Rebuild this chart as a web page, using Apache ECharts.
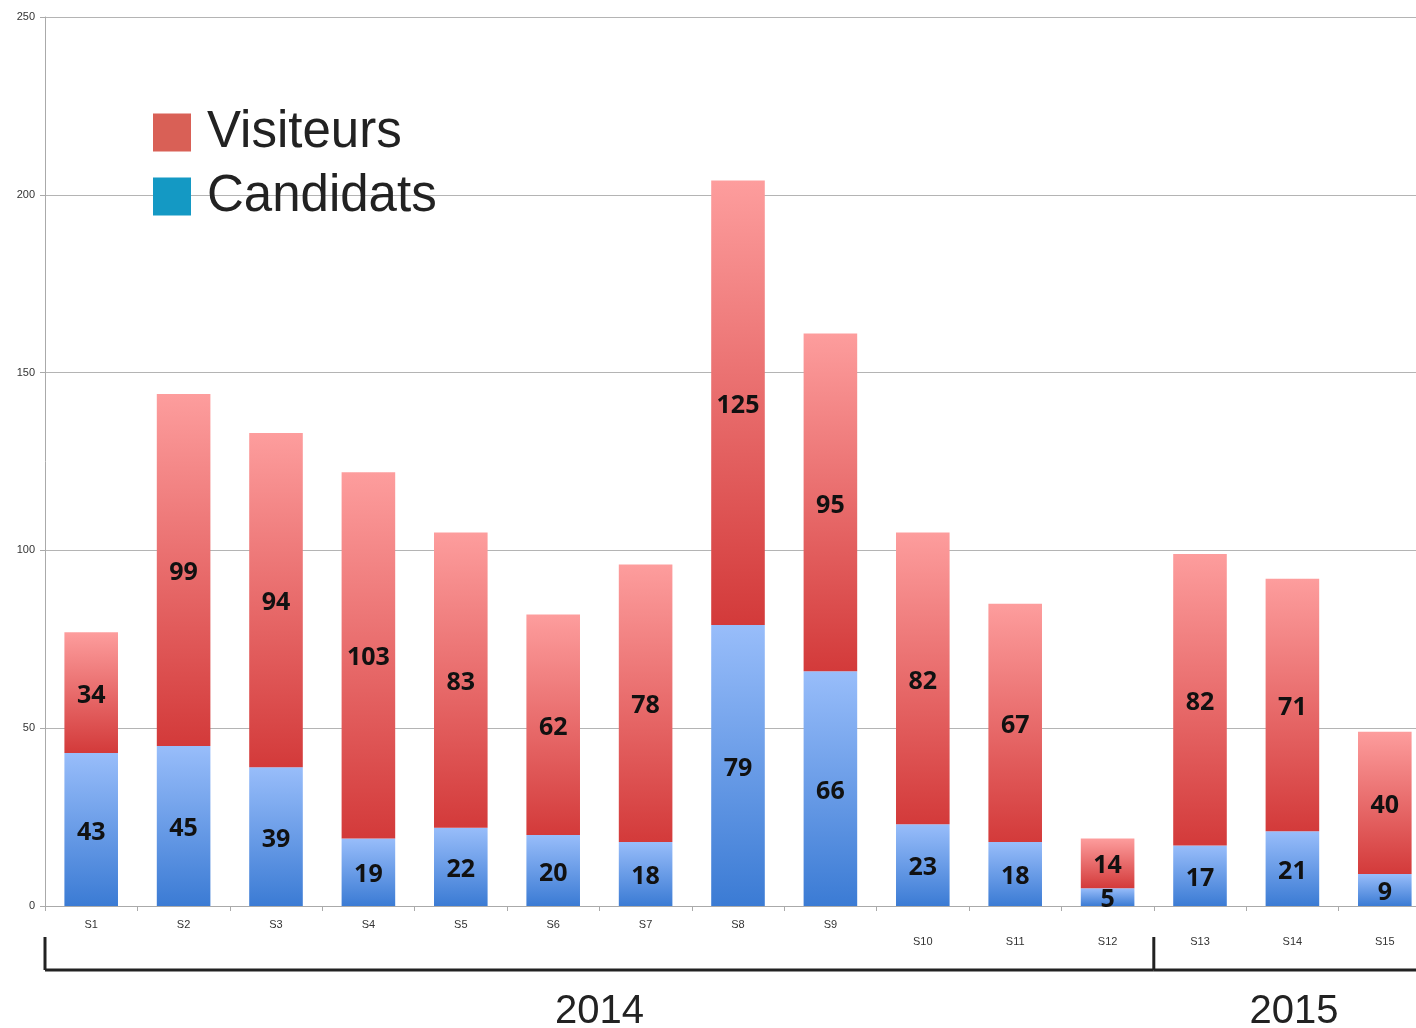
<!DOCTYPE html>
<html>
<head>
<meta charset="utf-8">
<script src="https://cdn.jsdelivr.net/npm/echarts@6/dist/echarts.min.js"></script>
<style>
	html,body{margin:0;padding:0;background:#fff;overflow:hidden;}
	#main{width:1416px;height:1028px;}
</style>
</head>
<body>
<div id="main"></div>
<script>
// données
var semaines = ["S1","S2","S3","S4","S5","S6","S7","S8","S9","S10","S11","S12","S13","S14","S15"];
var candidats = [43,45,39,19,22,20,18,79,66,23,18,5,17,21,9];
var visiteurs = [34,99,94,103,83,62,78,125,95,82,67,14,82,71,40];
var yTicks = [0,50,100,150,200,250];
var annees = [{label:"2014", from:"S1", to:"S12"},{label:"2015", from:"S13", to:"S15"}];

var myChart = echarts.init(document.getElementById("main"));

function grad(top, bottom){
	return new echarts.graphic.LinearGradient(0,0,0,1,[{offset:0,color:top},{offset:1,color:bottom}]);
}

var labelStyle = {
	show: true,
	position: "inside",
	offset: [0,3],
	color: "#111",
	fontFamily: "Open Sans",
	fontWeight: "bold",
	fontSize: 25
};

myChart.setOption({
	animation: false,
	grid: {left:45, width:1386, top:17, bottom:122, outerBoundsMode:"none", containLabel:false},
	legend: {
		orient: "vertical",
		left: 153,
		top: 107,
		padding: 0,
		itemWidth: 38,
		itemHeight: 38,
		itemGap: 13,
		icon: "rect",
		textStyle: {fontFamily:"Liberation Sans", fontSize:51, color:"#222", padding:[0,0,0,11]},
		data: [
			{name:"Visiteurs", itemStyle:{color:"#d96056"}},
			{name:"Candidats", itemStyle:{color:"#1499c4"}}
		]
	},
	xAxis: {
		type: "category",
		data: semaines,
		axisLine: {lineStyle:{color:"#aaa"}},
		axisTick: {show:true, length:5, lineStyle:{color:"#aaa"}},
		axisLabel: {
			margin: 10,
			fontFamily: "Liberation Sans",
			fontSize: 11,
			color: "#333",
			lineHeight: 17,
			interval: 0,
			formatter: function(v, i){ return (i >= 9 ? "\n" : "") + v; }
		}
	},
	yAxis: {
		type: "value",
		min: yTicks[0],
		max: yTicks[yTicks.length-1],
		interval: 50,
		axisLine: {show:true, lineStyle:{color:"#aaa"}},
		axisTick: {show:true, length:5, lineStyle:{color:"#aaa"}},
		splitLine: {lineStyle:{color:"#b4b4b4"}},
		axisLabel: {fontFamily:"Liberation Sans", fontSize:11, color:"#333", margin:10}
	},
	series: [
		{
			name: "Candidats",
			type: "bar",
			stack: "total",
			barWidth: "58%",
			data: candidats,
			itemStyle: {color: grad("#98bdfa","#3b7bd4")},
			label: labelStyle
		},
		{
			name: "Visiteurs",
			type: "bar",
			stack: "total",
			barWidth: "58%",
			data: visiteurs,
			itemStyle: {color: grad("#fd9d9d","#d33a3a")},
			label: labelStyle
		}
	]
});

//accolade années sous l'axe
var half = (myChart.convertToPixel({xAxisIndex:0}, semaines[1]) - myChart.convertToPixel({xAxisIndex:0}, semaines[0])) / 2;
var W = myChart.getWidth();
var els = [];
var yLine = 970;
annees.forEach(function(a, k){
	var x1 = myChart.convertToPixel({xAxisIndex:0}, a.from) - half;
	var x2 = Math.min(myChart.convertToPixel({xAxisIndex:0}, a.to) + half, W);
	els.push({type:"line", shape:{x1:x1, y1:yLine, x2:x2, y2:yLine}, style:{stroke:"#222", lineWidth:3}});
	els.push({type:"line", shape:{x1:x1, y1:937, x2:x1, y2:yLine}, style:{stroke:"#222", lineWidth:3}});
	els.push({
		type:"text",
		x: (x1 + x2) / 2 + (k == 1 ? 9 : 0),
		y: 1012,
		style:{text:a.label, fill:"#222", font:"40px 'Liberation Sans'", align:"center", verticalAlign:"middle"}
	});
});
myChart.setOption({graphic: els});
</script>
</body>
</html>
